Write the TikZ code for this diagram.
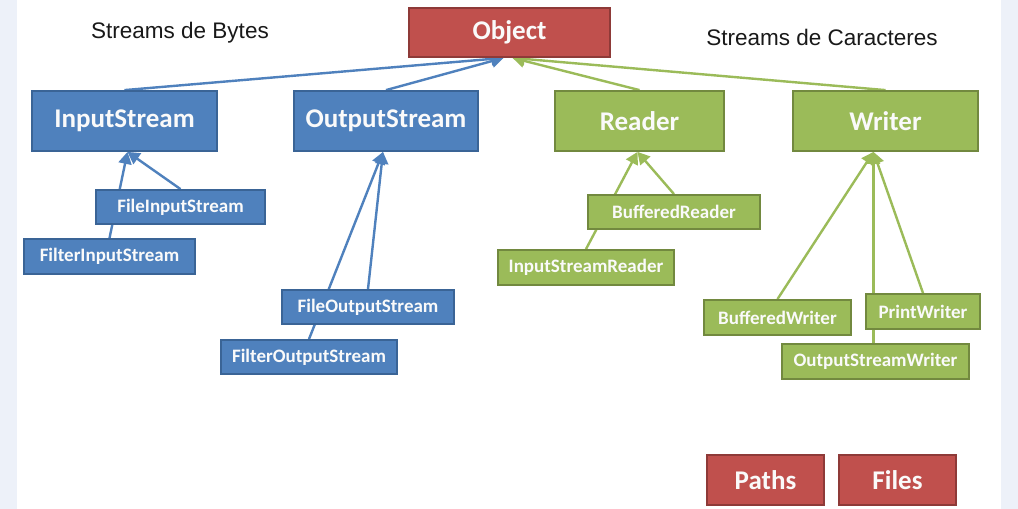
\documentclass[tikz,border=0pt]{standalone}
\usepackage{fontspec}
\setmainfont{Carlito}
\newfontfamily\arialf{Liberation Sans}
\usetikzlibrary{arrows.meta}
\pgfdeclarelayer{bg}
\pgfsetlayers{bg,main}
\definecolor{bluefill}{HTML}{4F81BD}
\definecolor{blueedge}{HTML}{3A6496}
\definecolor{greenfill}{HTML}{9BBB59}
\definecolor{greenedge}{HTML}{72893F}
\definecolor{redfill}{HTML}{C0504D}
\definecolor{rededge}{HTML}{8E3A38}
\definecolor{bandcol}{HTML}{EDF1F9}
\definecolor{txtcol}{HTML}{FAFAFA}
\tikzset{
  box/.style={rectangle, inner sep=0pt, line width=1.8pt, text=txtcol, font=\bfseries},
  bigbox/.style={box, font=\fontsize{27}{30}\selectfont\bfseries},
  smallbox/.style={box, font=\fontsize{19}{22}\selectfont\bfseries},
  bluebox/.style={fill=bluefill, draw=blueedge},
  greenbox/.style={fill=greenfill, draw=greenedge},
  redbox/.style={fill=redfill, draw=rededge},
  bluearr/.style={draw=bluefill, line width=2.4pt, -{Triangle[length=12pt,width=13pt]}},
  greenarr/.style={draw=greenfill, line width=2.4pt, -{Triangle[length=12pt,width=13pt]}},
  heading/.style={font=\arialf\fontsize{22.5}{26}\selectfont, text=black!90}
}
\begin{document}
\begin{tikzpicture}[x=1pt,y=-1pt]
\useasboundingbox (0,0) rectangle (1018,509);
\begin{pgfonlayer}{bg}
\fill[white] (0,0) rectangle (1018,509);
\fill[bandcol] (0,0) rectangle (17,509);
\fill[bandcol] (1001,0) rectangle (1018,509);
\end{pgfonlayer}

\node[heading] (hb) at (180,33) {Streams de Bytes};
\node[heading] (hc) at (822,37) {Streams de Caracteres};

\node[bigbox, redbox, minimum width=201pt, minimum height=49pt] (obj) at (509.5,32.5) {Object};

\node[bigbox, bluebox, minimum width=185pt, minimum height=60pt] (is) at (124.5,121) {InputStream};
\node[bigbox, bluebox, minimum width=184pt, minimum height=60pt] (os) at (386,121) {OutputStream};
\node[bigbox, greenbox, minimum width=169pt, minimum height=60pt] (rd) at (639.5,121) {Reader};
\node[bigbox, greenbox, minimum width=185pt, minimum height=60pt] (wr) at (885.5,121) {Writer};

\node[smallbox, bluebox, minimum width=169pt, minimum height=34pt] (fis) at (180.5,207) {FileInputStream};
\node[smallbox, bluebox, minimum width=171pt, minimum height=35pt] (flis) at (109.5,256.5) {FilterInputStream};
\node[smallbox, bluebox, minimum width=172pt, minimum height=34pt] (fos) at (368,307) {FileOutputStream};
\node[smallbox, bluebox, minimum width=176pt, minimum height=34pt] (flos) at (309,357) {FilterOutputStream};

\node[smallbox, greenbox, minimum width=172pt, minimum height=34pt] (br) at (674,212) {BufferedReader};
\node[smallbox, greenbox, minimum width=176pt, minimum height=35pt] (isr) at (586,267.5) {InputStreamReader};
\node[smallbox, greenbox, minimum width=147pt, minimum height=35pt] (bw) at (777.5,317.5) {BufferedWriter};
\node[smallbox, greenbox, minimum width=114pt, minimum height=35pt] (pw) at (923,311.5) {PrintWriter};
\node[smallbox, greenbox, minimum width=187pt, minimum height=35pt] (osw) at (875.5,361.5) {OutputStreamWriter};

\node[bigbox, redbox, minimum width=117pt, minimum height=50pt] (paths) at (765.5,480) {Paths};
\node[bigbox, redbox, minimum width=117pt, minimum height=50pt] (files) at (897.5,480) {Files};

\coordinate (objb) at ([xshift=-6pt]obj.south);
\coordinate (objg) at ([xshift=3pt]obj.south);
\coordinate (isb) at ([xshift=3pt]is.south);
\coordinate (osb) at ([xshift=-3pt]os.south);
\coordinate (rdb) at ([xshift=-2pt]rd.south);
\coordinate (wrb) at ([xshift=-12pt]wr.south);

\begin{pgfonlayer}{bg}
\draw[bluearr] (is.north) -- (objb);
\draw[bluearr] (os.north) -- (objb);
\draw[greenarr] (rd.north) -- (objg);
\draw[greenarr] (wr.north) -- (objg);

\draw[bluearr] (fis.north) -- (isb);
\draw[bluearr] (flis.north) -- (isb);
\draw[bluearr] (fos.north) -- (osb);
\draw[bluearr] (flos.north) -- (osb);

\draw[greenarr] (br.north) -- (rdb);
\draw[greenarr] (isr.north) -- (rdb);
\draw[greenarr] (bw.north) -- (wrb);
\draw[greenarr] (osw.north -| wrb) -- (wrb);
\draw[greenarr] (pw.north) -- (wrb);
\end{pgfonlayer}
\end{tikzpicture}
\end{document}
